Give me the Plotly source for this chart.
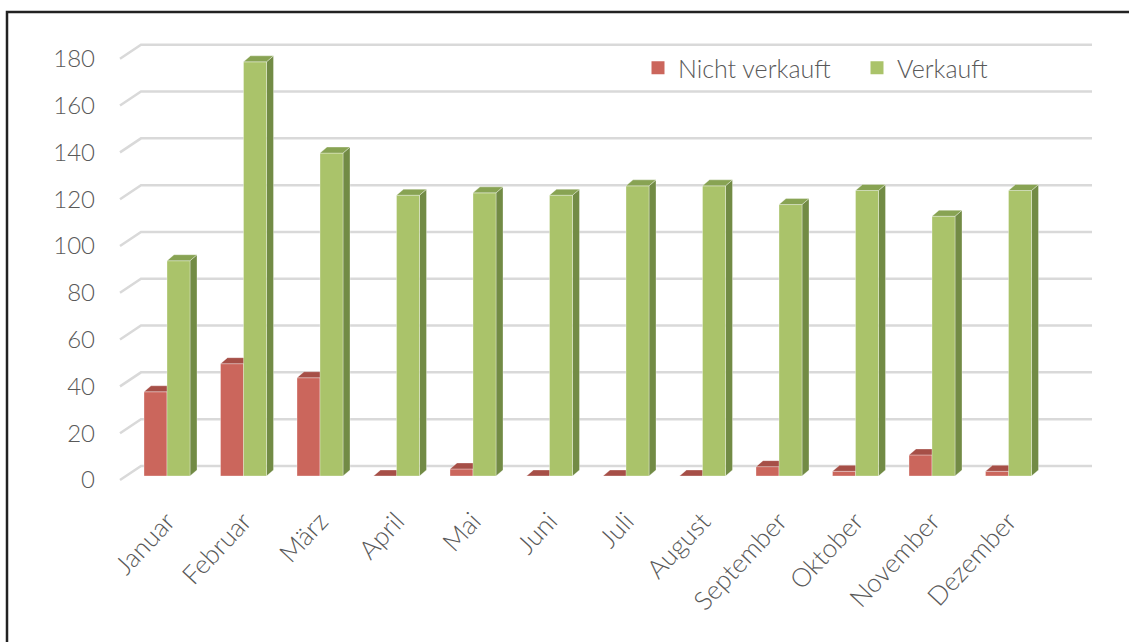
import plotly.graph_objects as go

# ---- data ----
months = ["Januar", "Februar", "März", "April", "Mai", "Juni", "Juli",
          "August", "September", "Oktober", "November", "Dezember"]
nicht_verkauft = [36, 48, 42, 0, 3, 0, 0, 0, 4, 2, 9, 2]
verkauft = [92, 177, 138, 120, 121, 120, 124, 124, 116, 122, 111, 122]
y_ticks = [0, 20, 40, 60, 80, 100, 120, 140, 160, 180]

# ---- layout geometry (pixels) ----
W, H = 1129, 642
L, R, T, B = 100, 1110, 20, 500
PX_PER_CAT = 76.5          # horizontal distance between month groups
X0_PX = 167                # pixel position of the first group centre
BASE_PX = 476              # pixel row of value 0 on the bar plane
PX_PER_UNIT = 2.34         # vertical pixels per value unit

x_range = [(L - X0_PX) / PX_PER_CAT, (R - X0_PX) / PX_PER_CAT]
y_range = [(BASE_PX - B) / PX_PER_UNIT, (BASE_PX - T) / PX_PER_UNIT]

BAR_W = 23 / PX_PER_CAT    # width of one column face
DX = 7 / PX_PER_CAT        # depth offset, horizontal
DY = 6 / PX_PER_UNIT       # depth offset, vertical

FRONT_SHIFT = -1.7         # front edge of the floor, in value units
BACK_SHIFT = 4.3           # back wall, in value units
STUB_X0 = (120 - X0_PX) / PX_PER_CAT
WALL_X0 = (141 - X0_PX) / PX_PER_CAT
WALL_X1 = (1092 - X0_PX) / PX_PER_CAT

RED_FRONT, RED_TOP, RED_SIDE = "#CB665C", "#A64F47", "#9A463F"
GRN_FRONT, GRN_TOP, GRN_SIDE = "#AAC36A", "#88A353", "#728B45"
GRID = "#D9D9D9"
TEXT = "#595959"
FONT = "Lato"

fig = go.Figure()

# gridlines: short slanted floor edge + horizontal line on the back wall
gx, gy = [], []
for t in y_ticks:
    gx += [STUB_X0, WALL_X0, WALL_X1, None]
    gy += [t + FRONT_SHIFT, t + BACK_SHIFT, t + BACK_SHIFT, None]
fig.add_trace(go.Scatter(x=gx, y=gy, mode="lines",
                         line=dict(color=GRID, width=2.5),
                         hoverinfo="skip", showlegend=False))


def faces(values, offset):
    """Polygons for the front, top and side face of each column."""
    front_x, front_y, top_x, top_y, side_x, side_y = [], [], [], [], [], []
    for i, v in enumerate(values):
        x0 = i + offset
        x1 = x0 + BAR_W
        front_x += [x0, x1, x1, x0, x0, None]
        front_y += [0, 0, v, v, 0, None]
        top_x += [x0, x1, x1 + DX, x0 + DX, x0, None]
        top_y += [v, v, v + DY, v + DY, v, None]
        side_x += [x1, x1 + DX, x1 + DX, x1, x1, None]
        side_y += [0, DY, v + DY, v, 0, None]
    return (front_x, front_y), (top_x, top_y), (side_x, side_y)


def poly(xy, color, edge="rgba(255,255,255,0.55)"):
    return go.Scatter(x=xy[0], y=xy[1], mode="lines", fill="toself",
                      fillcolor=color, line=dict(color=edge, width=0.6),
                      hoverinfo="skip", showlegend=False)


for values, offset, cols in [
    (nicht_verkauft, -BAR_W, (RED_FRONT, RED_TOP, RED_SIDE)),
    (verkauft, 0.0, (GRN_FRONT, GRN_TOP, GRN_SIDE)),
]:
    front, top, side = faces(values, offset)
    fig.add_trace(poly(side, cols[2]))
    fig.add_trace(poly(front, cols[0]))
    fig.add_trace(poly(top, cols[1]))

# legend entries
for name, col in [("Nicht verkauft", RED_FRONT), ("Verkauft", GRN_FRONT)]:
    fig.add_trace(go.Scatter(x=[None], y=[None], mode="markers", name=name,
                             marker=dict(symbol="square", size=13, color=col)))

fig.update_layout(
    width=W, height=H,
    margin=dict(l=L, r=W - R, t=T, b=H - B),
    paper_bgcolor="white", plot_bgcolor="white",
    font=dict(family=FONT, color=TEXT, size=24, weight=300),
    xaxis=dict(range=x_range, tickmode="array",
               tickvals=list(range(len(months))), ticktext=months,
               tickangle=-47, showgrid=False, zeroline=False,
               showline=False, ticks="",
               tickfont=dict(size=26, family=FONT, color=TEXT, weight=300)),
    yaxis=dict(range=y_range, tickmode="array",
               tickvals=[t + FRONT_SHIFT for t in y_ticks],
               ticktext=[str(t) for t in y_ticks],
               showgrid=False, zeroline=False, showline=False, ticks="",
               ticklabelstandoff=4),
    legend=dict(orientation="h", x=(638 - L) / (R - L), xanchor="left",
                y=(B - 68) / (B - T), yanchor="middle",
                bgcolor="rgba(0,0,0,0)", font=dict(size=25),
                entrywidth=174, entrywidthmode="pixels"),
    showlegend=True,
)

# outer frame
fig.add_shape(type="path", xref="paper", yref="paper",
              path="M {x0},{y1} L {x0},{y0} L {x1},{y0}".format(
                  x0=(7 - L) / (R - L), y0=(B - 12) / (B - T),
                  x1=(W + 10 - L) / (R - L), y1=(B - H - 10) / (B - T)),
              line=dict(color="#222222", width=2.5))

fig.write_html("out.html")
